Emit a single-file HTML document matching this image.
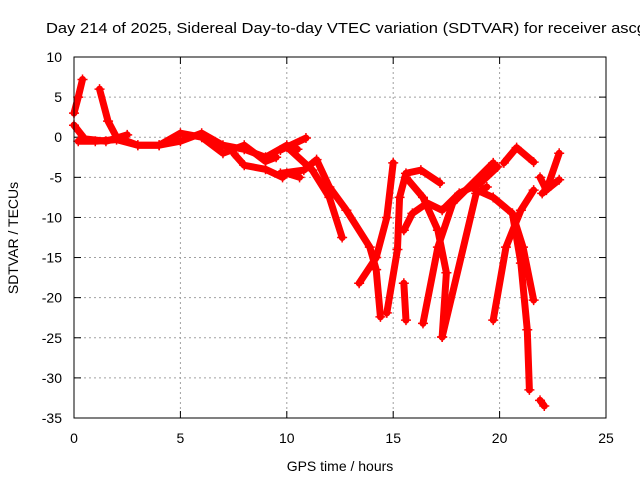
<!DOCTYPE html>
<html><head><meta charset="utf-8"><style>
body{margin:0;background:#fff;overflow:hidden}
svg{display:block;font-family:"Liberation Sans",sans-serif}
</style></head><body>
<svg id="chart" width="640" height="480">
<text x="46" y="33" font-size="15" textLength="600" lengthAdjust="spacingAndGlyphs">Day 214 of 2025, Sidereal Day-to-day VTEC variation (SDTVAR) for receiver ascg</text>
<text transform="translate(18,238) rotate(-90)" text-anchor="middle" font-size="14">SDTVAR / TECUs</text>
<text x="340" y="471" text-anchor="middle" font-size="14">GPS time / hours</text>
<g id="grid"></g><g id="ticks"></g><g id="marks"></g>
<rect x="74" y="57" width="532" height="361" fill="none" stroke="#000"/>
</svg>
<script>
const xTicks=[0,5,10,15,20,25];
const yTicks=[10,5,0,-5,-10,-15,-20,-25,-30,-35];
const tracks=[
[[0,3],[0.2,5],[0.4,7.2]],
[[0,1.5],[0.5,-0.2],[1.5,-0.5],[2.5,0.3]],
[[1.2,6],[1.6,2],[2,0],[3,-1],[4,-1],[5,-0.5],[6,0.5],[7,-1],[8,-1.5],[9,-2.5],[10,-1],[10.5,-1.5]],
[[0.2,-0.5],[1,-0.5],[2,-0.3],[3,-1],[4,-1],[5,0.5],[6,0],[7,-2],[8,-1],[9,-3],[9.5,-2.5]],
[[7.5,-2],[8,-3.5],[9,-4],[9.8,-5],[10,-4.5],[10.6,-5]],
[[9.7,-1.6],[10.9,-0.1]],
[[9.7,-4.5],[10.8,-4.1],[11.4,-2.8],[12,-6.2],[12.8,-9.1],[13.9,-13.7],[14.2,-16.5],[14.4,-22.4]],
[[10,-1.2],[11.2,-4.1],[12,-7.5],[12.6,-12.5]],
[[13.4,-18.2],[14.2,-15],[14.7,-10],[15,-3.2]],
[[14.7,-21.9],[15.2,-14],[15.3,-7.5],[15.6,-4.5],[16.3,-4.1],[17.2,-5.7]],
[[15.5,-11.6],[15.9,-9.5],[16.6,-8.2],[17.3,-9.1],[18.1,-7],[19.1,-5.7],[19.9,-3.7]],
[[15.5,-18.2],[15.6,-22.8]],
[[15.6,-5],[16.4,-7.5],[17.1,-11.6],[17.5,-16.9],[17.3,-24.9]],
[[17.3,-24.9],[18.9,-7],[19.4,-6.2]],
[[16.4,-23.2],[17.1,-13.7],[17.8,-8.2],[19.7,-3.2]],
[[18.6,-6.2],[19.7,-7.5],[20.6,-9.5],[21.1,-13.7],[21.6,-20.3]],
[[19.7,-22.8],[20.3,-13.7],[21,-9.1],[21.6,-6.6]],
[[20.6,-9.5],[21,-15.7],[21.3,-24],[21.4,-31.5]],
[[21.9,-32.8],[22.1,-33.5]],
[[20.2,-3.2],[20.8,-1.3],[21.6,-3.1]],
[[21.9,-5],[22.2,-6.6],[22.8,-2]],
[[22,-7],[22.8,-5.3]]
];
const NS="http://www.w3.org/2000/svg";
const X=v=>74+v*532/25, Y=v=>57+(10-v)*361/45;
const grid=document.getElementById('grid'),ticks=document.getElementById('ticks'),marks=document.getElementById('marks');
function mk(t,a,p){const e=document.createElementNS(NS,t);for(const k in a)e.setAttribute(k,a[k]);p.appendChild(e);return e;}
xTicks.forEach(v=>{
 if(v>0&&v<25){const g=mk('line',{x1:X(v),x2:X(v),y1:57,y2:418,stroke:'#a0a0a0','stroke-dasharray':'2,3'},grid);
 
 }
 mk('line',{x1:X(v),x2:X(v),y1:418,y2:411,stroke:'#000'},ticks);mk('line',{x1:X(v),x2:X(v),y1:57,y2:64,stroke:'#000'},ticks);
 const t=mk('text',{x:X(v),y:443,'text-anchor':'middle','font-size':14},ticks);t.textContent=v;
 
 
});
yTicks.forEach(v=>{
 if(v<10&&v>-35){const g=mk('line',{x1:74,x2:606,y1:Y(v),y2:Y(v),stroke:'#a0a0a0','stroke-dasharray':'2,3'},grid);
 
 }
 mk('line',{x1:74,x2:81,y1:Y(v),y2:Y(v),stroke:'#000'},ticks);mk('line',{x1:606,x2:599,y1:Y(v),y2:Y(v),stroke:'#000'},ticks);
 const t=mk('text',{x:62,y:Y(v)+5,'text-anchor':'end','font-size':14},ticks);t.textContent=v;
 
 
});
tracks.forEach(tr=>{
 const pl=mk('polyline',{points:tr.map(p=>X(p[0])+','+Y(p[1])).join(' '),fill:'none',stroke:'#f00','stroke-width':7,'stroke-linejoin':'round','stroke-linecap':'round'},marks);
 
 
 tr.forEach(p=>{const m=mk('path',{d:`M${X(p[0])-5},${Y(p[1])}h10M${X(p[0])},${Y(p[1])-5}v10`,stroke:'#f00','stroke-width':1.5},marks);
 
 });
});
</script>
</body></html>
